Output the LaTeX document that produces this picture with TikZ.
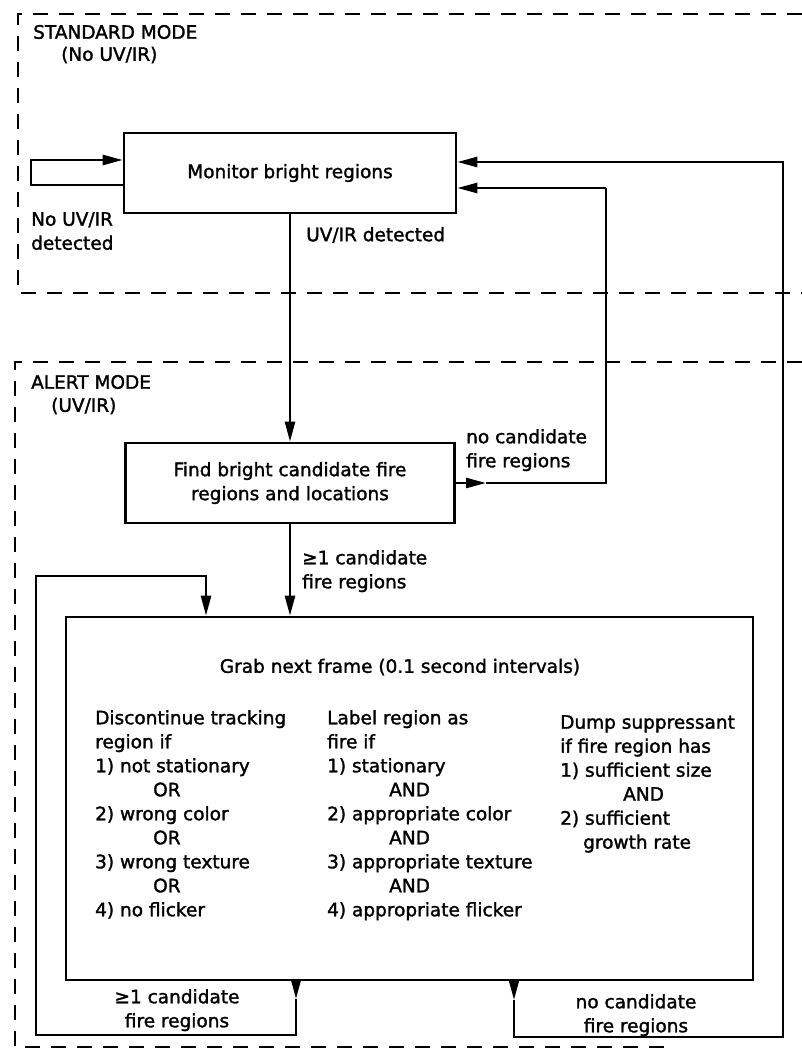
\documentclass[tikz,border=0pt]{standalone}
\usepackage{fontspec}
\setmainfont{DejaVu Sans}[BoldFont={DejaVu Sans}, BoldFeatures={FakeBold=1.6}]
\usetikzlibrary{arrows.meta}
\tikzset{
  lbl/.style={font=\fontsize{18.5}{24}\selectfont\bfseries, inner sep=0pt},
  box/.style={draw, line width=2.6pt, inner sep=0pt, font=\fontsize{18.5}{24}\selectfont\bfseries, align=center},
  conn/.style={line width=2.5pt},
  arr/.style={-{Triangle[length=20pt,width=10pt]}},
  frame/.style={line width=2.8pt, dash pattern=on 15pt off 11pt},
}
\begin{document}
\begin{tikzpicture}[x=1pt,y=-1pt]
\useasboundingbox (0,0) rectangle (802,1050);

% mode frames
\draw[frame] (802,14) -- (18,14) -- (18,293) -- (802,293);
\draw[frame] (802,362) -- (15,362) -- (15,1047) -- (668,1047);

% mode labels
\node[lbl, anchor=west] (stdmode) at (33,32) {STANDARD MODE};
\node[lbl, anchor=west] (stdsub) at (61,55) {(No UV/IR)};
\node[lbl, anchor=west] (alertmode) at (31,382) {ALERT MODE};
\node[lbl, anchor=west] (alertsub) at (51,406) {(UV/IR)};

% boxes
\node[box, minimum width=332pt, minimum height=80pt] (mon) at (290,173) {Monitor bright regions};
\node[box, minimum width=329pt, minimum height=80pt] (find) at (290,483) {Find bright candidate fire\\regions and locations};
\node[box, minimum width=687pt, minimum height=363pt] (grab) at (409.5,798.5) {};

% grab box contents
\node[lbl] (grabtitle) at (400,667) {Grab next frame (0.1 second intervals)};
\node[lbl, anchor=north west, align=left] (col1) at (95,710) {Discontinue tracking\\region if\\1) not stationary\\\hspace*{58pt}OR\\2) wrong color\\\hspace*{58pt}OR\\3) wrong texture\\\hspace*{58pt}OR\\4) no flicker};
\node[lbl, anchor=north west, align=left] (col2) at (327,710) {Label region as\\fire if\\1) stationary\\\hspace*{62pt}AND\\2) appropriate color\\\hspace*{62pt}AND\\3) appropriate texture\\\hspace*{62pt}AND\\4) appropriate flicker};
\node[lbl, anchor=north west, align=left] (col3) at (560,715) {Dump suppressant\\if fire region has\\1) sufficient size\\\hspace*{63pt}AND\\2) sufficient\\\hspace*{23pt}growth rate};

% connector labels
\node[lbl, anchor=north west, align=left] (noir) at (31,212) {No UV/IR\\detected};
\node[lbl, anchor=west] (uvir) at (306,235) {UV/IR detected};
\node[lbl, anchor=north west, align=left] (nocand) at (466,429) {no candidate\\fire regions};
\node[lbl, anchor=north west, align=left] (gecand) at (302,550) {≥1 candidate\\fire regions};
\node[lbl, anchor=north, align=center] (gecandb) at (177,989) {≥1 candidate\\fire regions};
\node[lbl, anchor=north, align=center] (nocandb) at (636,994) {no candidate\\fire regions};

% coordinates
\coordinate (sl1) at (31,185);
\coordinate (sl2) at (31,160);
\coordinate (ncm) at (486,483);
\coordinate (nc) at (606,483);
\coordinate (nc2) at (606,188);
\coordinate (bla) at (296,999);
\coordinate (blx) at (296,1035);
\coordinate (bll) at (36,1035);
\coordinate (blt) at (36,576);
\coordinate (blr) at (206,576);
\coordinate (bra) at (514,1000);
\coordinate (brx) at (514,1037);
\coordinate (brr) at (783,1037);
\coordinate (brt) at (783,162);

% connectors
\draw[conn, arr] (mon.west |- sl1) -- (sl1) -- (sl2) -- (mon.west |- sl2);
\draw[conn, arr] (mon.south) -- (find.north);
\draw[conn, arr] (find.east) -- (ncm);
\draw[conn] (ncm) -- (nc) -- (nc2);
\draw[conn, arr] (nc2) -- (mon.east |- nc2);
\draw[conn, arr] (find.south) -- (grab.north -| find.south);
\draw[conn, arr] (grab.south -| bla) -- (bla);
\draw[conn, arr] (bla) -- (blx) -- (bll) -- (blt) -- (blr) -- (grab.north -| blr);
\draw[conn, arr] (grab.south -| bra) -- (bra);
\draw[conn, arr] (bra) -- (brx) -- (brr) -- (brt) -- (mon.east |- brt);
\end{tikzpicture}
\end{document}
